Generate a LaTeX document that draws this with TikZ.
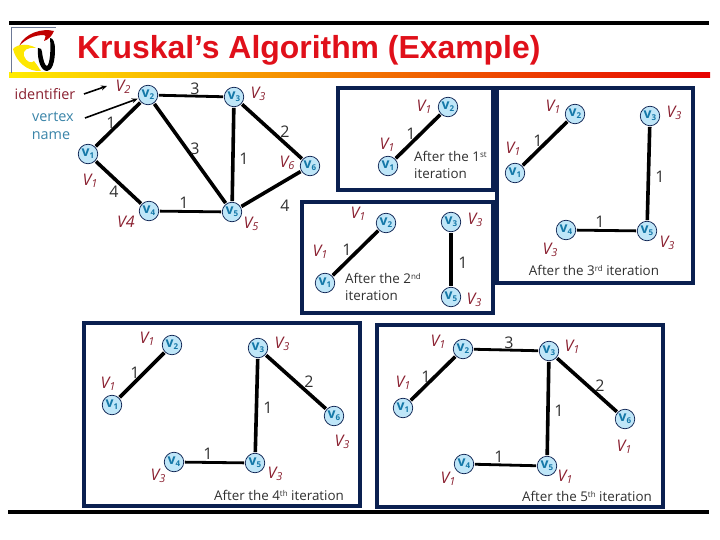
\documentclass[tikz,border=0pt]{standalone}
\usepackage{fontspec}
\setmainfont{Open Sans}
\newfontfamily\titlefont{Liberation Sans}
\definecolor{navy}{HTML}{0A2050}
\definecolor{tred}{HTML}{E0101A}
\definecolor{vred}{HTML}{8A2030}
\definecolor{tealb}{HTML}{3A84A8}
\definecolor{nodefill}{HTML}{BFE6F8}
\definecolor{nodetxt}{HTML}{1478A8}
\definecolor{txtgrey}{HTML}{303030}
\newcommand{\vn}[1]{\textbf{v\raisebox{-2pt}{\fontsize{8}{8}\selectfont #1}}}
\newcommand{\VL}[1]{\textit{V\raisebox{-2.5pt}{\fontsize{11}{12}\selectfont #1}}}
\newcommand{\sps}[1]{\raisebox{3.5pt}{\fontsize{8}{8}\selectfont #1}}
\usetikzlibrary{arrows.meta}
\tikzset{
  vx/.style={circle,draw=navy,line width=0.7pt,fill=nodefill,minimum size=19.5pt,inner sep=0pt,outer sep=1.2pt,text=nodetxt,font=\fontsize{14}{14}\selectfont},
  wt/.style={inner sep=0pt,text=txtgrey,font=\fontsize{16}{18}\selectfont},
  vl/.style={inner sep=0pt,text=vred,font=\fontsize{16}{18}\selectfont},
  cpt/.style={inner sep=0pt,text=txtgrey,font=\fontsize{13.4}{17}\selectfont,align=left},
  edge/.style={draw=black,line width=3.6pt},
  hedge/.style={draw=black,line width=2.8pt},
  frame/.style={draw=navy,line width=3.4pt},
  rule/.style={draw=black,line width=4pt},
  leader/.style={draw=black,line width=1.6pt,-{Stealth[length=6pt,width=5pt]}}
}
\begin{document}
\begin{tikzpicture}[x=1pt,y=-1pt]
\useasboundingbox (0,0) rectangle (720,540);
% rules and band
\draw[rule] (9,23) -- (709,23);
\draw[rule] (8,512) -- (709,512);
\shade[left color=yellow!85!orange,middle color=orange!90!yellow,right color=red!90!black,draw=none] (9,73) rectangle (710,78);
% logo
\draw[draw=navy!60,line width=0.5pt] (11,73) -- (11,27) -- (56,27);
\fill[red!75!black] (19,46) .. controls (25,33) and (42,28) .. (54,31) .. controls (52,36) and (48,40) .. (44,41) .. controls (46,36) and (46,35) .. (44,35) .. controls (34,35) and (26,39) .. (19,46) -- cycle;
\fill[yellow!90!orange] (13,49) .. controls (18,43) and (30,44) .. (36,48) .. controls (28,47) and (22,50) .. (24,56) .. controls (26,62) and (32,64) .. (34,61) .. controls (38,66) and (40,70) .. (41,71) .. controls (28,72) and (16,62) .. (13,49) -- cycle;
\fill[black] (38,48) .. controls (41,48) and (42,49) .. (42,52) .. controls (43,60) and (45,66) .. (47,66) .. controls (50,64) and (51,50) .. (50,38) .. controls (53,38) and (55,42) .. (55,50) .. controls (55,62) and (52,71) .. (47,71) .. controls (41,71) and (37,60) .. (38,48) -- cycle;
% title
\node[anchor=base west,inner sep=0pt,text=tred,font=\titlefont\bfseries\fontsize{31.9}{34}\selectfont] (title) at (77,59) {Kruskal’s Algorithm (Example)};
% frames
\draw[frame] (338,88) rectangle (493,190);
\draw[frame] (302,202) rectangle (493,313);
\draw[frame] (497,88) rectangle (693,283);
\draw[frame] (84,323) rectangle (360,506);
\draw[frame] (377,325) rectangle (663,507);
% legend
\node[inner sep=0pt,text=vred,font=\fontsize{14.4}{18}\selectfont] (lid) at (45,94) {identifier};
\node[inner sep=0pt,text=tealb,font=\fontsize{14.4}{18}\selectfont] (lvx) at (53,117) {vertex};
\node[inner sep=0pt,text=tealb,font=\fontsize{14.4}{18}\selectfont] (lnm) at (51,136) {name};
% main graph
\node[vx] (a1) at (88,154) {\vn{1}};
\node[vx] (a2) at (148,95) {\vn{2}};
\node[vx] (a3) at (234,97) {\vn{3}};
\node[vx] (a4) at (149,211) {\vn{4}};
\node[vx] (a5) at (232,212) {\vn{5}};
\node[vx] (a6) at (310,166) {\vn{6}};
\coordinate (idtip) at (107,86);
\coordinate (idtail) at (84,94);
\coordinate (vxtail) at (85,118);
\draw[leader] (idtail) -- (idtip);
\draw[leader] (vxtail) -- (a2);
\draw[edge] (a1) -- (a2);
\draw[edge] (a1) -- (a4);
\draw[hedge] (a2) -- (a3);
\draw[edge] (a2) -- (a5);
\draw[edge] (a3) -- (a5);
\draw[edge] (a3) -- (a6);
\draw[hedge] (a4) -- (a5);
\draw[edge] (a5) -- (a6);
\node[wt] (aw1) at (195,89) {3};
\node[wt] (aw2) at (111,123) {1};
\node[wt] (aw3) at (195,149) {3};
\node[wt] (aw4) at (244,159) {1};
\node[wt] (aw5) at (285,132) {2};
\node[wt] (aw6) at (114,192) {4};
\node[wt] (aw7) at (184,203) {1};
\node[wt] (aw8) at (285,206) {4};
\node[vl] (al1) at (123,87) {\VL{2}};
\node[vl] (al2) at (258,94) {\VL{3}};
\node[vl] (al3) at (287,163) {\VL{6}};
\node[vl] (al4) at (90,181) {\VL{1}};
\node[vl] (al5) at (126,222) {\textit{V4}};
\node[vl] (al6) at (251,224) {\VL{5}};
% after 1st
\node[vx] (b1) at (388,166) {\vn{1}};
\node[vx] (b2) at (448,107) {\vn{2}};
\draw[edge] (b1) -- (b2);
\node[wt] (bw1) at (411,134) {1};
\node[vl] (bl1) at (424,107) {\VL{1}};
\node[vl] (bl2) at (387,145) {\VL{1}};
\node[cpt,anchor=north west] (bc) at (414,151) {After the 1\sps{st}\\iteration};
% after 2nd
\node[vx] (c1) at (325,283) {\vn{1}};
\node[vx] (c2) at (386,223) {\vn{2}};
\node[vx] (c3) at (451,222) {\vn{3}};
\node[vx] (c5) at (451,297) {\vn{5}};
\draw[edge] (c1) -- (c2);
\draw[edge] (c3) -- (c5);
\node[wt] (cw1) at (347,250) {1};
\node[wt] (cw2) at (463,263) {1};
\node[vl] (cl1) at (358,214) {\VL{1}};
\node[vl] (cl2) at (320,252) {\VL{1}};
\node[vl] (cl3) at (475,220) {\VL{3}};
\node[vl] (cl4) at (474,300) {\VL{3}};
\node[cpt,anchor=north west] (cc) at (345,273) {After the 2\sps{nd}\\iteration};
% after 3rd
\node[vx] (d1) at (515,173) {\vn{1}};
\node[vx] (d2) at (575,114) {\vn{2}};
\node[vx] (d3) at (650,116) {\vn{3}};
\node[vx] (d4) at (566,230) {\vn{4}};
\node[vx] (d5) at (647,231) {\vn{5}};
\draw[edge] (d1) -- (d2);
\draw[edge] (d3) -- (d5);
\draw[hedge] (d4) -- (d5);
\node[wt] (dw1) at (538,141) {1};
\node[wt] (dw2) at (660,177) {1};
\node[wt] (dw3) at (600,222) {1};
\node[vl] (dl1) at (553,107) {\VL{1}};
\node[vl] (dl2) at (513,149) {\VL{1}};
\node[vl] (dl3) at (674,113) {\VL{3}};
\node[vl] (dl4) at (550,250) {\VL{3}};
\node[vl] (dl5) at (667,243) {\VL{3}};
\node[cpt] (dc) at (594,270) {After the 3\sps{rd} iteration};
% after 4th
\node[vx] (e1) at (112,405) {\vn{1}};
\node[vx] (e2) at (172,345) {\vn{2}};
\node[vx] (e3) at (258,348) {\vn{3}};
\node[vx] (e4) at (174,462) {\vn{4}};
\node[vx] (e5) at (255,463) {\vn{5}};
\node[vx] (e6) at (334,416) {\vn{6}};
\draw[edge] (e1) -- (e2);
\draw[edge] (e3) -- (e5);
\draw[edge] (e3) -- (e6);
\draw[hedge] (e4) -- (e5);
\node[wt] (ew1) at (135,373) {1};
\node[wt] (ew2) at (309,382) {2};
\node[wt] (ew3) at (268,408) {1};
\node[wt] (ew4) at (208,454) {1};
\node[vl] (el1) at (147,339) {\VL{1}};
\node[vl] (el2) at (108,384) {\VL{1}};
\node[vl] (el3) at (282,344) {\VL{3}};
\node[vl] (el4) at (342,442) {\VL{3}};
\node[vl] (el5) at (158,476) {\VL{3}};
\node[vl] (el6) at (275,474) {\VL{3}};
\node[cpt] (ec) at (279,495) {After the 4\sps{th} iteration};
% after 5th
\node[vx] (f1) at (403,408) {\vn{1}};
\node[vx] (f2) at (463,349) {\vn{2}};
\node[vx] (f3) at (549,351) {\vn{3}};
\node[vx] (f4) at (464,464) {\vn{4}};
\node[vx] (f5) at (547,466) {\vn{5}};
\node[vx] (f6) at (625,419) {\vn{6}};
\draw[edge] (f1) -- (f2);
\draw[hedge] (f2) -- (f3);
\draw[edge] (f3) -- (f5);
\draw[edge] (f3) -- (f6);
\draw[hedge] (f4) -- (f5);
\node[wt] (fw1) at (426,377) {1};
\node[wt] (fw2) at (509,343) {3};
\node[wt] (fw3) at (600,386) {2};
\node[wt] (fw4) at (559,411) {1};
\node[wt] (fw5) at (499,457) {1};
\node[vl] (fl1) at (438,342) {\VL{1}};
\node[vl] (fl2) at (403,383) {\VL{1}};
\node[vl] (fl3) at (572,347) {\VL{1}};
\node[vl] (fl4) at (624,447) {\VL{1}};
\node[vl] (fl5) at (448,479) {\VL{1}};
\node[vl] (fl6) at (565,477) {\VL{1}};
\node[cpt] (fc) at (587,496) {After the 5\sps{th} iteration};
\end{tikzpicture}
\end{document}
